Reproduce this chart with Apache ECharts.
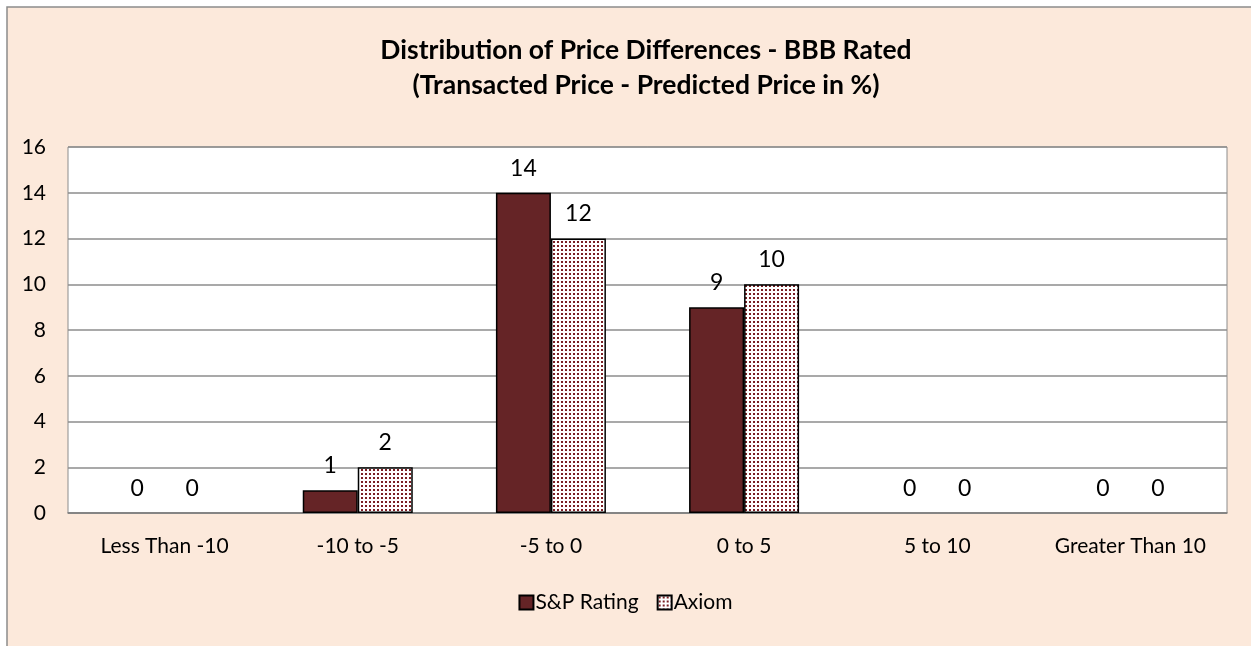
<!DOCTYPE html>
<html>
<head>
    <meta charset="utf-8">
    <title>ECharts</title>
    <script src="https://cdn.jsdelivr.net/npm/echarts@6/dist/echarts.min.js"></script>
    <style>
        body { margin: 0; background: #fff; }
    </style>
</head>
<body>
    <div id="main" style="width: 1251px;height:646px;"></div>
    <script type="text/javascript">
        // data
        var categories = ['Less Than -10', '-10 to -5', '-5 to 0', '0 to 5', '5 to 10', 'Greater Than 10'];
        var spRating = [0, 1, 14, 9, 0, 0];
        var axiom = [0, 2, 12, 10, 0, 0];

        var font = 'Lato, "Open Sans", sans-serif';

        // dotted fill for Axiom
        var pat = document.createElement('canvas');
        pat.width = 4;
        pat.height = 4;
        var ctx = pat.getContext('2d');
        ctx.fillStyle = '#ffffff';
        ctx.fillRect(0, 0, 4, 4);
        ctx.fillStyle = '#7a1f24';
        ctx.fillRect(1, 1, 2, 2);

        // zero bars get no outline (like the original)
        function toItems(arr) {
            return arr.map(function (v) {
                return v === 0 ? { value: v, itemStyle: { borderWidth: 0 } } : v;
            });
        }

        var myChart = echarts.init(document.getElementById('main'));

        var labelOpt = {
            show: true,
            position: 'top',
            distance: 13,
            color: '#000',
            fontFamily: font,
            fontSize: 23
        };

        var option = {
            backgroundColor: '#ffffff',
            graphic: [{
                type: 'rect',
                silent: true,
                z: -10,
                shape: { x: 7, y: 7, width: 1260, height: 660 },
                style: { fill: '#fce9db', stroke: '#8c8c8c', lineWidth: 1.5 }
            }],
            title: {
                text: 'Distribution of Price Differences - BBB Rated\n(Transacted Price - Predicted Price in %)',
                left: 641,
                textAlign: 'center',
                top: 28,
                textStyle: {
                    fontFamily: font,
                    fontWeight: 'bold',
                    fontSize: 26.5,
                    lineHeight: 35,
                    color: '#000'
                }
            },
            legend: {
                data: ['S&P Rating', 'Axiom'],
                bottom: 28,
                left: 'center',
                itemWidth: 14,
                itemHeight: 14,
                itemGap: 18,
                icon: 'rect',
                textStyle: { fontFamily: font, fontSize: 21, color: '#000', padding: [0, 0, 0, -3] }
            },
            grid: {
                left: 68,
                right: 24,
                top: 147,
                bottom: 133,
                show: true,
                backgroundColor: '#ffffff',
                borderColor: '#8c8c8c',
                borderWidth: 1
            },
            xAxis: {
                type: 'category',
                data: categories,
                axisTick: { show: false },
                axisLine: { lineStyle: { color: '#7f7f7f', width: 1.5 } },
                axisLabel: { fontFamily: font, fontSize: 21, color: '#000', margin: 23, interval: 0 }
            },
            yAxis: {
                type: 'value',
                min: 0,
                max: 16,
                interval: 2,
                axisLine: { show: false },
                axisTick: { show: false },
                axisLabel: { fontFamily: font, fontSize: 21, color: '#000', margin: 22 },
                splitLine: { lineStyle: { color: '#8c8c8c', width: 1.5 } }
            },
            series: [{
                name: 'S&P Rating',
                type: 'bar',
                data: toItems(spRating),
                barWidth: 55,
                barGap: '0%',
                itemStyle: { color: '#652426', borderColor: '#000', borderWidth: 1.5 },
                label: labelOpt
            }, {
                name: 'Axiom',
                type: 'bar',
                data: toItems(axiom),
                barWidth: 55,
                itemStyle: { color: { image: pat, repeat: 'repeat' }, borderColor: '#000', borderWidth: 1.5 },
                label: labelOpt
            }]
        };

        myChart.setOption(option);
    </script>
</body>
</html>
